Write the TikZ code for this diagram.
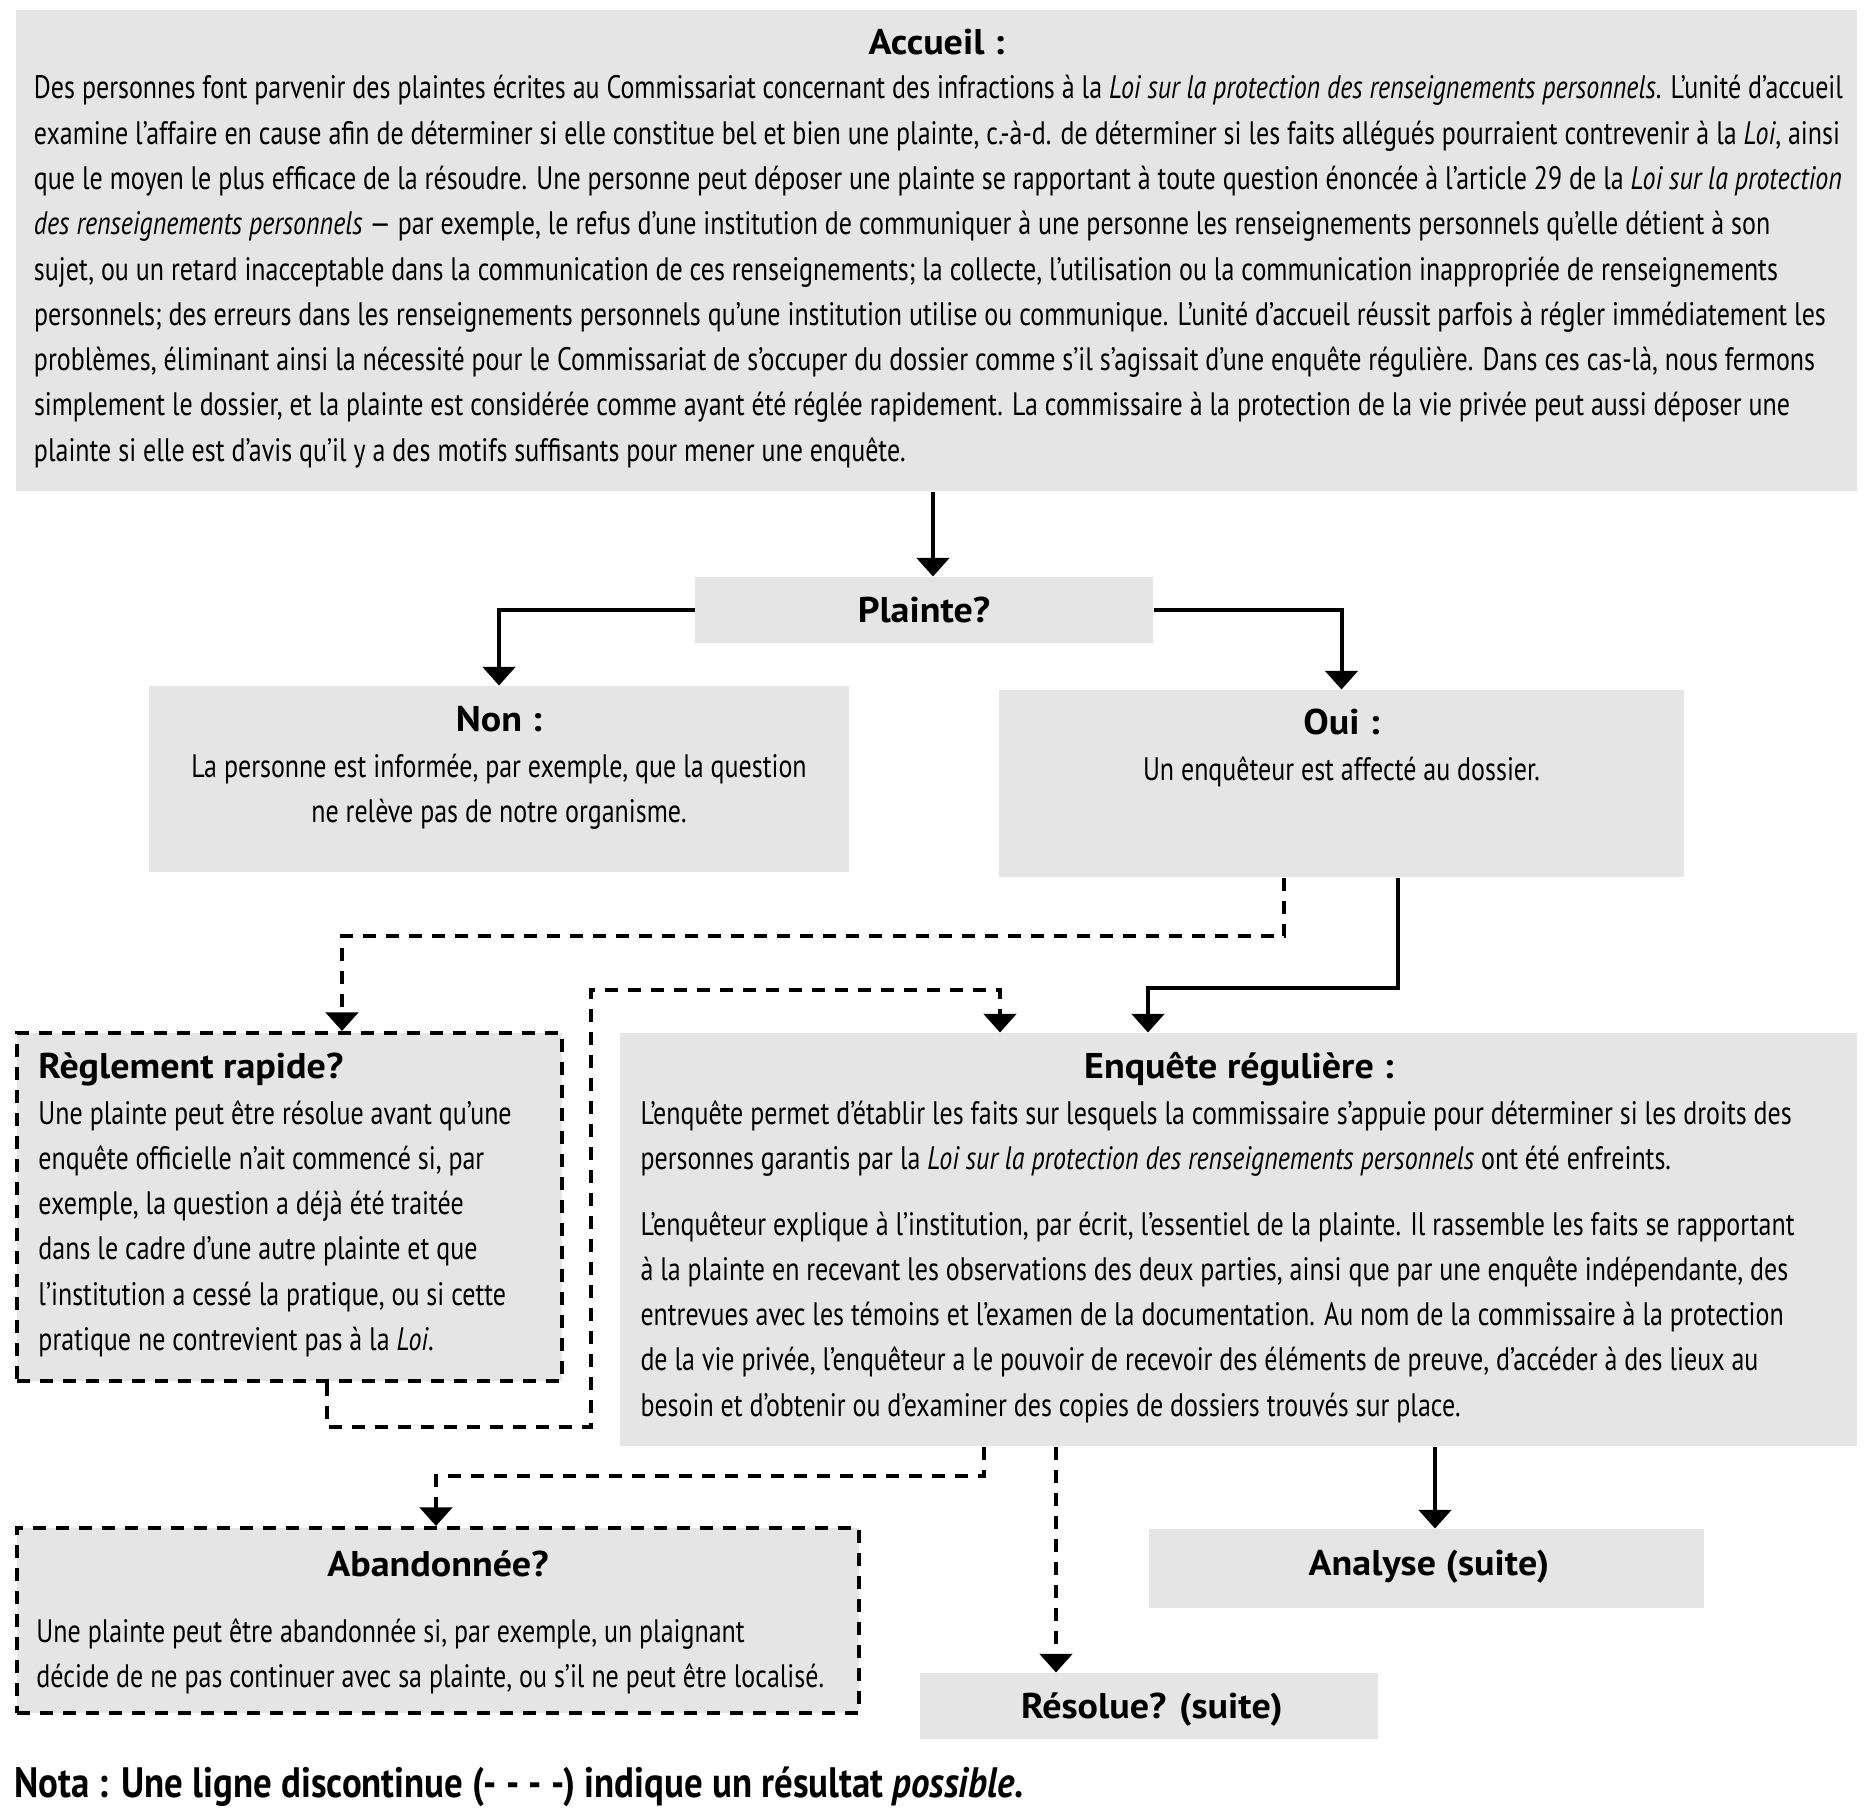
\documentclass[tikz,border=0pt]{standalone}
\usepackage{fontspec}
\usetikzlibrary{arrows.meta,fit}
\definecolor{boxgray}{RGB}{229,229,229}
\newfontfamily\measfont{PT Sans}
\newlength\wA\newlength\wB\newlength\wC
\settowidth\wA{\measfont\fontsize{13}{18}\selectfont Des personnes font parvenir des plaintes écrites au Commissariat concernant des infractions à la \textit{Loi sur la protection des renseignements personnels}. L’unité d’accueil}
\settowidth\wB{\measfont\bfseries\fontsize{14.3}{18}\selectfont Plainte?}
\settowidth\wC{\measfont\bfseries\fontsize{17}{20}\selectfont Nota : Une ligne discontinue (- - - -) indique un résultat \textit{possible}.}
\makeatletter
\edef\sA{\fpeval{round(723.6/\strip@pt\wA,4)}}
\edef\sB{\fpeval{round(53/\strip@pt\wB,4)}}
\edef\sC{\fpeval{round(403.6/\strip@pt\wC,4)}}
\makeatother
\edef\tmp{\noexpand\setmainfont{PT Sans}[FakeStretch=\sA]}\tmp
\edef\tmp{\noexpand\newfontfamily\noexpand\titlefont{PT Sans}[FakeStretch=\sB]}\tmp
\edef\tmp{\noexpand\newfontfamily\noexpand\notafont{PT Sans}[FakeStretch=\sC]}\tmp
\newcommand\leftlines[1]{\vtop{\halign{##\hfil\cr#1\crcr}}}
\newcommand\centerlines[1]{\vtop{\halign{\hfil##\hfil\cr#1\crcr}}}
\begin{document}
\begin{tikzpicture}[x=0.4pt,y=-0.4pt,
  box/.style={fill=boxgray, draw=none, inner sep=0pt},
  dbox/.style={fill=boxgray, draw=black, line width=1.6pt, dash pattern=on 5.2pt off 4pt, inner sep=0pt},
  arr/.style={line width=1.6pt, -{Triangle[width=13pt,length=7.5pt]}},
  darr/.style={arr, dash pattern=on 5.2pt off 4pt},
  body/.style={font=\fontsize{13}{18.1}\selectfont, inner sep=0pt},
  ttl/.style={font=\titlefont\bfseries\fontsize{14.3}{18}\selectfont, inner sep=0pt},
  nota/.style={font=\notafont\bfseries\fontsize{17}{20}\selectfont, inner sep=0pt}]
\useasboundingbox[fill=white] (0,0) rectangle (1869,1819);
% boxes
\node[box, fit={(16,10) (1857,491)}] (acc) {};
\node[box, fit={(695,577) (1153,643)}] (pla) {};
\node[box, fit={(149,686) (849,872)}] (non) {};
\node[box, fit={(999,690) (1684,877)}] (oui) {};
\node[dbox, fit={(17,1033) (562,1381)}] (reg) {};
\node[box, fit={(620,1033) (1857,1446)}] (enq) {};
\node[dbox, fit={(17,1528) (859,1713)}] (aba) {};
\node[box, fit={(1149,1529) (1704,1608)}] (ana) {};
\node[box, fit={(920,1673) (1378,1739)}] (res) {};
% texts
\node[ttl, anchor=base] (accH) at (936.5,55) {Accueil :};
\node[body, anchor=base west] (accB) at (33.5,99) {\leftlines{%
Des personnes font parvenir des plaintes écrites au Commissariat concernant des infractions à la \textit{Loi sur la protection des renseignements personnels}. L’unité d’accueil\cr
examine l’affaire en cause afin de déterminer si elle constitue bel et bien une plainte, c.-à-d. de déterminer si les faits allégués pourraient contrevenir à la \textit{Loi}, ainsi\cr
que le moyen le plus efficace de la résoudre. Une personne peut déposer une plainte se rapportant à toute question énoncée à l’article 29 de la \textit{Loi sur la protection}\cr
\textit{des renseignements personnels} — par exemple, le refus d’une institution de communiquer à une personne les renseignements personnels qu’elle détient à son\cr
sujet, ou un retard inacceptable dans la communication de ces renseignements; la collecte, l’utilisation ou la communication inappropriée de renseignements\cr
personnels; des erreurs dans les renseignements personnels qu’une institution utilise ou communique. L’unité d’accueil réussit parfois à régler immédiatement les\cr
problèmes, éliminant ainsi la nécessité pour le Commissariat de s’occuper du dossier comme s’il s’agissait d’une enquête régulière. Dans ces cas-là, nous fermons\cr
simplement le dossier, et la plainte est considérée comme ayant été réglée rapidement. La commissaire à la protection de la vie privée peut aussi déposer une\cr
plainte si elle est d’avis qu’il y a des motifs suffisants pour mener une enquête.}};
\node[ttl, anchor=base] (plaT) at (924,622) {Plainte?};
\node[ttl, anchor=base] (nonH) at (499,731) {Non :};
\node[body, anchor=base] (nonB) at (499,777) {\centerlines{La personne est informée, par exemple, que la question\cr ne relève pas de notre organisme.}};
\node[ttl, anchor=base] (ouiH) at (1341.5,734) {Oui :};
\node[body, anchor=base] (ouiB) at (1341.5,780) {Un enquêteur est affecté au dossier.};
\node[ttl, anchor=base west] (regH) at (38,1078) {Règlement rapide?};
\node[body, anchor=base west] (regB) at (38,1124) {\leftlines{%
Une plainte peut être résolue avant qu’une\cr
enquête officielle n’ait commencé si, par\cr
exemple, la question a déjà été traitée\cr
dans le cadre d’une autre plainte et que\cr
l’institution a cessé la pratique, ou si cette\cr
pratique ne contrevient pas à la \textit{Loi}.}};
\node[ttl, anchor=base] (enqH) at (1239,1078) {Enquête régulière :};
\node[body, anchor=base west] (enqB1) at (640,1124) {\leftlines{%
L’enquête permet d’établir les faits sur lesquels la commissaire s’appuie pour déterminer si les droits des\cr
personnes garantis par la \textit{Loi sur la protection des renseignements personnels} ont été enfreints.}};
\node[body, anchor=base west] (enqB2) at (640,1235) {\leftlines{%
L’enquêteur explique à l’institution, par écrit, l’essentiel de la plainte. Il rassemble les faits se rapportant\cr
à la plainte en recevant les observations des deux parties, ainsi que par une enquête indépendante, des\cr
entrevues avec les témoins et l’examen de la documentation. Au nom de la commissaire à la protection\cr
de la vie privée, l’enquêteur a le pouvoir de recevoir des éléments de preuve, d’accéder à des lieux au\cr
besoin et d’obtenir ou d’examiner des copies de dossiers trouvés sur place.}};
\node[ttl, anchor=base] (abaH) at (438,1576) {Abandonnée?};
\node[body, anchor=base west] (abaB) at (36,1642) {\leftlines{%
Une plainte peut être abandonnée si, par exemple, un plaignant\cr
décide de ne pas continuer avec sa plainte, ou s’il ne peut être localisé.}};
\node[ttl, anchor=base] (anaT) at (1429,1575) {Analyse (suite)};
\node[ttl, anchor=base] (resT) at (1152,1718) {Résolue? (suite)};
\node[nota, anchor=base west] (notaT) at (14,1797) {Nota : Une ligne discontinue (- - - -) indique un résultat \textit{possible}.};
% connectors
\coordinate (c1) at (933,0);
\draw[arr] (acc.south -| c1) -- (pla.north -| c1);
\draw[arr] (pla.west) -| (non.north);
\draw[arr] (pla.east) -| (oui.north);
\coordinate (d1) at (1284,936); \coordinate (d2) at (342,936);
\draw[darr] (oui.south -| d1) -- (d1) -- (d2) -- (reg.north -| d2);
\coordinate (e1) at (1397.5,988); \coordinate (e2) at (1148,988);
\draw[arr] (oui.south -| e1) -- (e1) -- (e2) -- (enq.north -| e2);
\coordinate (f1) at (327,1427); \coordinate (f2) at (591,1427); \coordinate (f3) at (591,990); \coordinate (f4) at (1000,990);
\draw[darr] (reg.south -| f1) -- (f1) -- (f2) -- (f3) -- (f4) -- (enq.north -| f4);
\coordinate (g1) at (984,1476); \coordinate (g2) at (436,1476);
\draw[darr] (enq.south -| g1) -- (g1) -- (g2) -- (aba.north -| g2);
\coordinate (h1) at (1056,0);
\draw[darr] (enq.south -| h1) -- (res.north -| h1);
\coordinate (k1) at (1435,0);
\draw[arr] (enq.south -| k1) -- (ana.north -| k1);
\end{tikzpicture}
\end{document}
